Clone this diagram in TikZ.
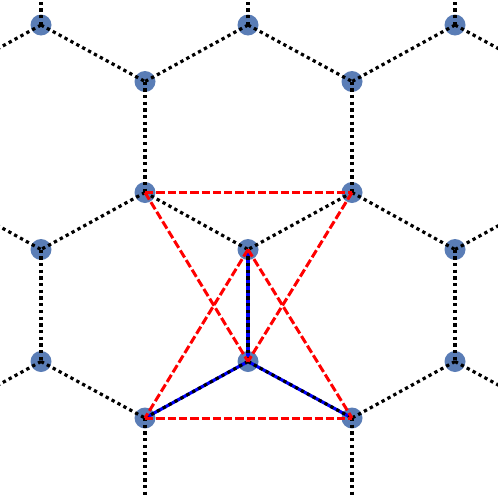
\documentclass[tikz,border=0pt]{standalone}
\definecolor{sitecol}{RGB}{90,125,182}
\begin{document}
\begin{tikzpicture}[x=1pt,y=-1pt,
  site/.style={circle,fill=sitecol,draw=none,inner sep=0pt,minimum size=21pt},
  bond/.style={black,line width=3.2pt,dash pattern=on 3.3pt off 3.4pt},
  hop/.style={red,line width=3pt,dash pattern=on 8.3pt off 3pt},
  path3/.style={blue,line width=3.2pt}]
\useasboundingbox (0,0) rectangle (498,498);
\clip (0,0) rectangle (498,498);
% sites
\node[site] (n1) at (41,25) {};
\node[site] (n2) at (248,25) {};
\node[site] (n3) at (455,25) {};
\node[site] (n4) at (145,81.5) {};
\node[site] (n5) at (352,81.5) {};
\node[site] (n6) at (145,192.5) {};
\node[site] (n7) at (352,192.5) {};
\node[site] (n8) at (41,249.5) {};
\node[site] (n9) at (248,249.5) {};
\node[site] (n10) at (455,249.5) {};
\node[site] (n11) at (41,361.5) {};
\node[site] (n12) at (248,361.5) {};
\node[site] (n13) at (455,361.5) {};
\node[site] (n14) at (145,418) {};
\node[site] (n15) at (352,418) {};
% off-canvas ends
\coordinate (u1) at (41,-86);
\coordinate (u2) at (248,-86);
\coordinate (u3) at (455,-86);
\coordinate (l1) at (-62,81.5);
\coordinate (r1) at (559,81.5);
\coordinate (l2) at (-62,192.5);
\coordinate (r2) at (559,192.5);
\coordinate (l3) at (-62,418);
\coordinate (r3) at (559,418);
\coordinate (d1) at (145,529.5);
\coordinate (d2) at (352,529.5);
% blue path
\draw[path3] (n9.center) -- (n12.center);
\draw[path3] (n12.center) -- (n14.center);
\draw[path3] (n12.center) -- (n15.center);
% lattice bonds
\foreach \a/\b in {n1/u1,n2/u2,n3/u3,n1/l1,n1/n4,n2/n4,n2/n5,n3/n5,n3/r1,
  n4/n6,n5/n7,n6/n8,n6/n9,n7/n9,n7/n10,l2/n8,n10/r2,
  n8/n11,n9/n12,n10/n13,n11/l3,n11/n14,n12/n14,n12/n15,n13/n15,n13/r3,
  n14/d1,n15/d2}
  \draw[bond] (\a.center) -- (\b.center);
% red triangles
\draw[hop] (n6.center) -- (n7.center);
\draw[hop] (n6.center) -- (n12.center);
\draw[hop] (n7.center) -- (n12.center);
\draw[hop] (n9.center) -- (n14.center);
\draw[hop] (n9.center) -- (n15.center);
\draw[hop] (n14.center) -- (n15.center);
\end{tikzpicture}
\end{document}
